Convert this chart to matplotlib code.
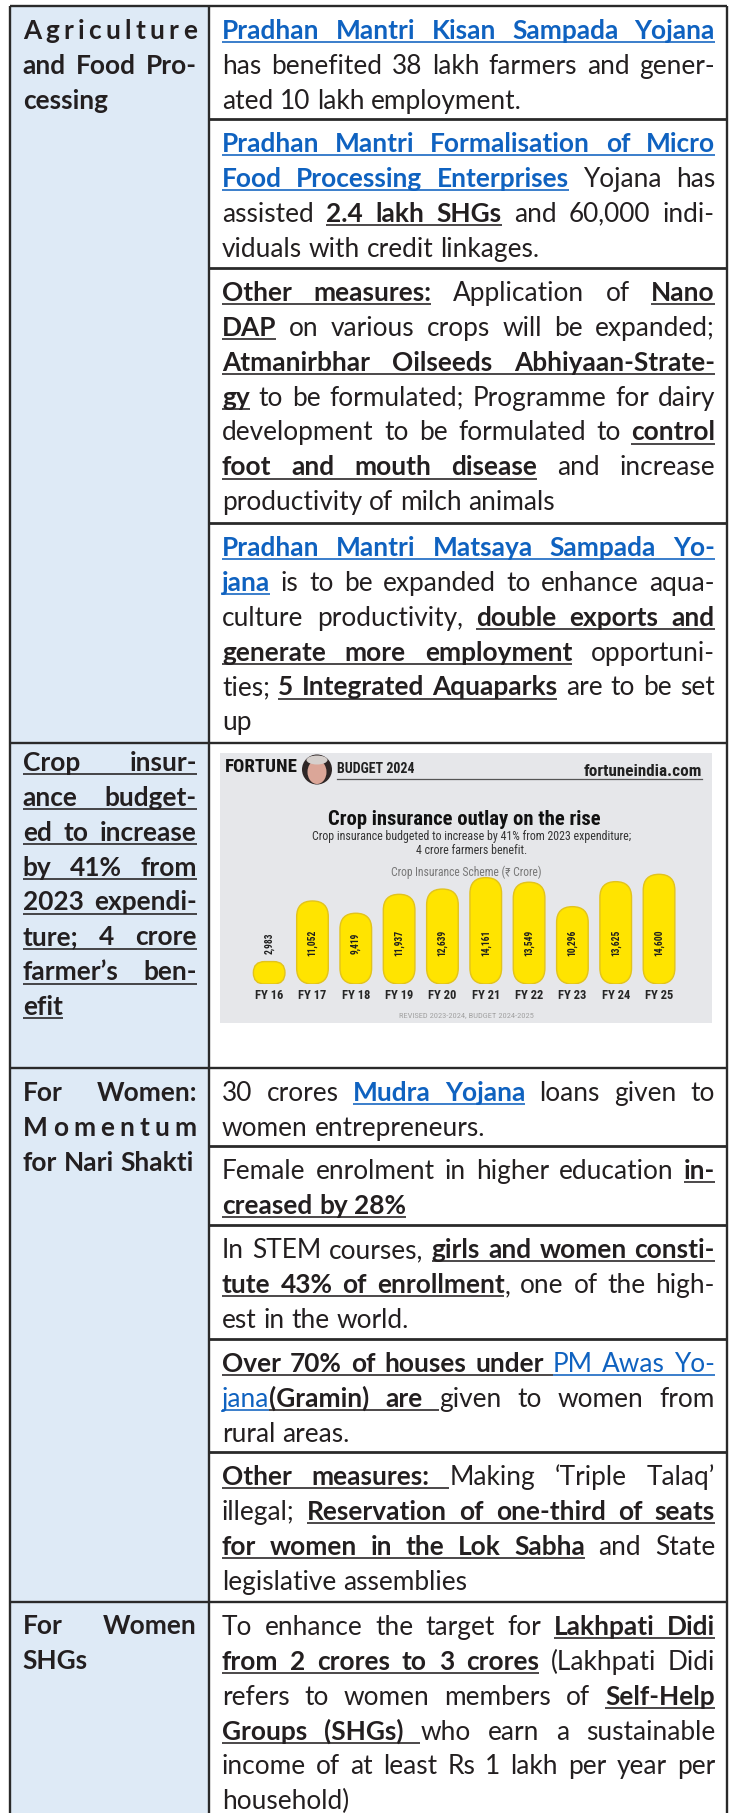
import matplotlib
matplotlib.use("Agg")
import matplotlib.pyplot as plt
from matplotlib.font_manager import FontProperties, fontManager
from matplotlib.patches import Rectangle, FancyBboxPatch, Circle, Ellipse

# ---------------- chart data ----------------
fiscal_years = ["FY 16", "FY 17", "FY 18", "FY 19", "FY 20",
                "FY 21", "FY 22", "FY 23", "FY 24", "FY 25"]
crop_insurance_crore = [2983, 11052, 9419, 11937, 12639,
                        14161, 13549, 10296, 13625, 14600]

chart_brand = "FORTUNE"
chart_edition = "BUDGET 2024"
chart_site = "fortuneindia.com"
chart_title = "Crop insurance outlay on the rise"
chart_subtitle = ["Crop insurance budgeted to increase by 41% from 2023 expenditure;",
                  "4 crore farmers benefit."]
chart_axis_label = "Crop Insurance Scheme (\u20b9 Crore)"
chart_source = "REVISED 2023-2024, BUDGET 2024-2025"

# ---------------- table text ----------------
# styles: n normal, b bold underlined, L bold link, l link, B bold header
head_agri = [[("B", "Agriculture")], [("B", "and Food Pro-")], [("B", "cessing")]]
head_crop = [[("b", "Crop insur-")], [("b", "ance budget-")], [("b", "ed to increase")],
             [("b", "by 41% from")], [("b", "2023 expendi-")], [("b", "ture; 4 crore")],
             [("b", "farmer\u2019s ben-")], [("b", "efit")]]
head_women = [[("B", "For Women:")], [("B", "Momentum")], [("B", "for Nari Shakti")]]
head_shg = [[("B", "For Women")], [("B", "SHGs")]]

agri_1 = [[("L", "Pradhan Mantri Kisan Sampada Yojana")],
          [("n", "has benefited 38 lakh farmers and gener-")],
          [("n", "ated 10 lakh employment.")]]
agri_2 = [[("L", "Pradhan Mantri Formalisation of Micro")],
          [("L", "Food Processing Enterprises"), ("n", " Yojana has")],
          [("n", "assisted "), ("b", "2.4 lakh SHGs"), ("n", " and 60,000 indi-")],
          [("n", "viduals with credit linkages.")]]
agri_3 = [[("b", "Other measures:"), ("n", " Application of "), ("b", "Nano")],
          [("b", "DAP"), ("n", " on various crops will be expanded;")],
          [("b", "Atmanirbhar Oilseeds Abhiyaan-Strate-")],
          [("b", "gy"), ("n", " to be formulated; Programme for dairy")],
          [("n", "development to be formulated to "), ("b", "control")],
          [("b", "foot and mouth disease"), ("n", " and increase")],
          [("n", "productivity of milch animals")]]
agri_4 = [[("L", "Pradhan Mantri Matsaya Sampada Yo-")],
          [("L", "jana"), ("n", " is to be expanded to enhance aqua-")],
          [("n", "culture productivity, "), ("b", "double exports and")],
          [("b", "generate more employment"), ("n", " opportuni-")],
          [("n", "ties; "), ("b", "5 Integrated Aquaparks"), ("n", " are to be set")],
          [("n", "up")]]
women_1 = [[("n", "30 crores "), ("L", "Mudra Yojana"), ("n", " loans given to")],
           [("n", "women entrepreneurs.")]]
women_2 = [[("n", "Female enrolment in higher education "), ("b", "in-")],
           [("b", "creased by 28%")]]
women_3 = [[("n", "In STEM courses, "), ("b", "girls and women consti-")],
           [("b", "tute 43% of enrollment"), ("n", ", one of the high-")],
           [("n", "est in the world.")]]
women_4 = [[("b", "Over 70% of houses under "), ("l", "PM Awas Yo-")],
           [("l", "jana"), ("b", "(Gramin) are "), ("n", "given to women from")],
           [("n", "rural areas.")]]
women_5 = [[("b", "Other measures: "), ("n", "Making \u2018Triple Talaq\u2019")],
           [("n", "illegal; "), ("b", "Reservation of one-third of seats")],
           [("b", "for women in the Lok Sabha"), ("n", " and State")],
           [("n", "legislative assemblies")]]
shg_1 = [[("n", "To enhance the target for "), ("b", "Lakhpati Didi")],
         [("b", "from 2 crores to 3 crores"), ("n", " (Lakhpati Didi")],
         [("n", "refers to women members of "), ("b", "Self-Help")],
         [("b", "Groups (SHGs) "), ("n", "who earn a sustainable")],
         [("n", "income of at least Rs 1 lakh per year per")],
         [("n", "household)")]]

# ---------------- setup ----------------
W, H, DPI = 729, 1813, 100
fig = plt.figure(figsize=(W / DPI, H / DPI), dpi=DPI)
fig.patch.set_facecolor("white")
ax = fig.add_axes([0, 0, 1, 1])
ax.set_xlim(0, W)
ax.set_ylim(H, 0)
ax.axis("off")
renderer = fig.canvas.get_renderer()

avail = {f.name for f in fontManager.ttflist}


def pick(cands, default="DejaVu Sans"):
    for c in cands:
        if c in avail:
            return c
    return default


BODY = pick(["Lato", "Open Sans", "Noto Sans"])
CH = pick(["Liberation Sans Narrow", "Roboto Condensed", "Lato"], BODY)
CHF = [CH, "DejaVu Sans"]

TXT = "#231f20"
BLUE = "#0f62c0"
LEFT_BG = "#deeaf6"
LINE = "#2a2a2a"

STY = {
    "n": ("normal", TXT, False),
    "b": ("bold", TXT, True),
    "L": ("bold", BLUE, True),
    "l": ("normal", BLUE, True),
    "B": ("bold", TXT, False),
}

_cache = {}


def tw(s, weight, size, family=None):
    family = family or BODY
    fkey = family if isinstance(family, str) else tuple(family)
    key = (s, weight, round(size, 4), fkey)
    if key not in _cache:
        fp = FontProperties(family=family, weight=weight, size=size)
        w, h, d = renderer.get_text_width_height_descent(s, fp, ismath=False)
        _cache[key] = w
    return _cache[key]


def space_w(size, weight="normal"):
    return tw("n n", weight, size) - tw("nn", weight, size)


BODY_SIZE = 18.9
LS = 34.85
UL_OFF = 3.4
UL_LW = 1.15


def underline(x0, x1, y, color):
    ax.plot([x0, x1], [y + UL_OFF, y + UL_OFF], color=color, lw=UL_LW,
            solid_capstyle="butt")


def put(x, y, t, st, size):
    weight, color, _ = STY[st]
    ax.text(x, y, t, fontsize=size, fontweight=weight, color=color,
            family=BODY, va="baseline", ha="left")


def parse(line):
    words, gaps, cur = [], [], []
    for st, txt in line:
        for ch in txt:
            if ch == " ":
                if cur:
                    words.append(cur)
                    cur = []
                    gaps.append(st)
            else:
                if cur and cur[-1][0] == st:
                    cur[-1] = (st, cur[-1][1] + ch)
                else:
                    cur.append((st, ch))
    if cur:
        words.append(cur)
    return words, gaps[:max(len(words) - 1, 0)]


def draw_line(line, x0, x1, y, size, justify):
    words, gaps = parse(line)
    n = len(words)
    if n == 1 and justify and len(words[0]) == 1 and len(words[0][0][1]) > 1:
        st, t = words[0][0]
        weight, color, ul = STY[st]
        cws = [tw(c, weight, size) for c in t]
        g = (x1 - x0 - sum(cws)) / (len(t) - 1)
        x = x0
        for c, cw in zip(t, cws):
            put(x, y, c, st, size)
            x += cw + g
        if ul:
            underline(x0, x1, y, color)
        return

    def widths(sz):
        return [sum(tw(t, STY[s][0], sz) for s, t in w) for w in words]

    ws = widths(size)
    sp = space_w(size)
    if justify and n > 1:
        g = (x1 - x0 - sum(ws)) / (n - 1)
        while g < 0.6 * sp:
            size *= 0.985
            ws = widths(size)
            sp = space_w(size)
            g = (x1 - x0 - sum(ws)) / (n - 1)
    else:
        g = sp
    x = x0
    for k, w in enumerate(words):
        for st, t in w:
            weight, color, ul = STY[st]
            pw = tw(t, weight, size)
            put(x, y, t, st, size)
            if ul:
                underline(x, x + pw, y, color)
            x += pw
        if k < n - 1:
            gst = gaps[k]
            if STY[gst][2]:
                underline(x, x + g, y, STY[gst][1])
            x += g


def draw_par(lines, top, x0, x1, off=33.0):
    for i, line in enumerate(lines):
        draw_line(line, x0, x1, top + off + i * LS, BODY_SIZE,
                  justify=(i < len(lines) - 1))


# ---------------- table frame ----------------
XL, XD, XR, YT = 10, 209, 727, 6
LX0, LX1 = 22.7, 197.0
RX0, RX1 = 222.0, 715.0

ax.add_patch(Rectangle((XL, YT), XD - XL, H - YT, facecolor=LEFT_BG, edgecolor="none"))

rows = [
    dict(top=6, head=head_agri, hoff=33.0,
         cells=[(6, agri_1), (119, agri_2), (268, agri_3), (523, agri_4)]),
    dict(top=743, head=head_crop, hoff=28.0, cells=[]),
    dict(top=1068, head=head_women, hoff=33.0,
         cells=[(1068, women_1), (1146, women_2), (1225, women_3),
                (1339, women_4), (1452, women_5)]),
    dict(top=1602, head=head_shg, hoff=32.5, cells=[(1602, shg_1)]),
]

LW = 1.7
for r in rows:
    ax.plot([XL, XR], [r["top"], r["top"]], color=LINE, lw=LW, solid_capstyle="butt")
    draw_par(r["head"], r["top"], LX0, LX1, off=r["hoff"])
    for k, (ctop, cell) in enumerate(r["cells"]):
        if k > 0:
            ax.plot([XD, XR], [ctop, ctop], color=LINE, lw=LW + 0.3, solid_capstyle="butt")
        draw_par(cell, ctop, RX0, RX1, off=33.0)

for xv in (XL, XD, XR):
    ax.plot([xv, xv], [YT, H], color=LINE, lw=LW, solid_capstyle="butt")

# ---------------- embedded infographic ----------------
ax.add_patch(Rectangle((220, 753), 492, 270, facecolor="#e6e7ea", edgecolor="none"))


def fit_size(s, target, weight, family=CHF):
    return 10.0 * target / tw(s, weight, 10.0, family)


def fit_text(s, x, y, target, weight="bold", color="#1a1a1a", ha="left"):
    size = fit_size(s, target, weight)
    ax.text(x, y, s, fontsize=size, fontweight=weight, color=color,
            family=CHF, ha=ha, va="baseline")


fit_text(chart_brand, 225, 772, 72, "bold", "#151515")
ax.add_patch(Circle((317, 769.5), 15, facecolor="#2e2626", edgecolor="none"))
ax.add_patch(Ellipse((317, 772), 19, 24, facecolor="#dba698", edgecolor="none"))
ax.add_patch(Ellipse((317, 760), 21, 9, facecolor="#d6d0cd", edgecolor="none"))
fit_text(chart_edition, 337, 773, 78, "bold", "#222222")
ax.plot([337, 702], [778.5, 778.5], color="#555555", lw=0.9)
fit_text(chart_site, 702, 776, 118, "bold", "#222222", ha="right")

fit_text(chart_title, 464, 825, 272, "bold", "#111111", ha="center")
sub_size = fit_size(chart_subtitle[0], 317, "normal")
ax.text(472, 840, chart_subtitle[0], fontsize=sub_size, color="#333333",
        family=CHF, ha="center", va="baseline")
ax.text(471.5, 854.5, chart_subtitle[1], fontsize=sub_size, color="#333333",
        family=CHF, ha="center", va="baseline")
fit_text(chart_axis_label, 466.5, 876, 151, "normal", "#777777", ha="center")
fit_text(chart_source, 466.5, 1017, 135, "normal", "#a3a3a3", ha="center")

# bars
BASE_PX, TOP_PX = 984.0, 863.8
BX0, BX1 = 247.5, 680.7
YMAX = 16000
bx = fig.add_axes([BX0 / W, 1 - BASE_PX / H, (BX1 - BX0) / W, (BASE_PX - TOP_PX) / H])
bx.set_xlim(-0.5, len(fiscal_years) - 0.5)
bx.set_ylim(0, YMAX)
bx.patch.set_alpha(0)
for s in bx.spines.values():
    s.set_visible(False)
bx.set_yticks([])
px_x = (BX1 - BX0) / len(fiscal_years)
px_y = (BASE_PX - TOP_PX) / YMAX
bars = bx.bar(range(len(fiscal_years)), crop_insurance_crore, width=0.73)
for rect in bars:
    x, y0, w, h = rect.get_x(), rect.get_y(), rect.get_width(), rect.get_height()
    r_px = min(w * px_x, h * px_y) / 2
    rect.set_visible(False)
    bx.add_patch(FancyBboxPatch((x, y0), w, h,
                                boxstyle=f"round,pad=0,rounding_size={r_px / px_x}",
                                mutation_aspect=px_x / px_y,
                                facecolor="#ffe400", edgecolor="#e2c31c", lw=1.0))

lab_size = fit_size("11,052", 26.5, "bold")
for i, v in enumerate(crop_insurance_crore):
    bx.text(i, 5450, f"{v:,}", rotation=90, ha="center", va="center",
            fontsize=lab_size, fontweight="bold", color="#1e1e1e", family=CHF)

fy_size = fit_size("FY 16", 28.3, "bold")
bx.set_xticks(range(len(fiscal_years)), fiscal_years)
for t in bx.get_xticklabels():
    t.set_fontsize(fy_size)
    t.set_fontweight("bold")
    t.set_color("#262626")
    t.set_family(CHF)
bx.tick_params(axis="x", length=0, pad=3.5)

fig.savefig("out.png", dpi=DPI, facecolor="white")
